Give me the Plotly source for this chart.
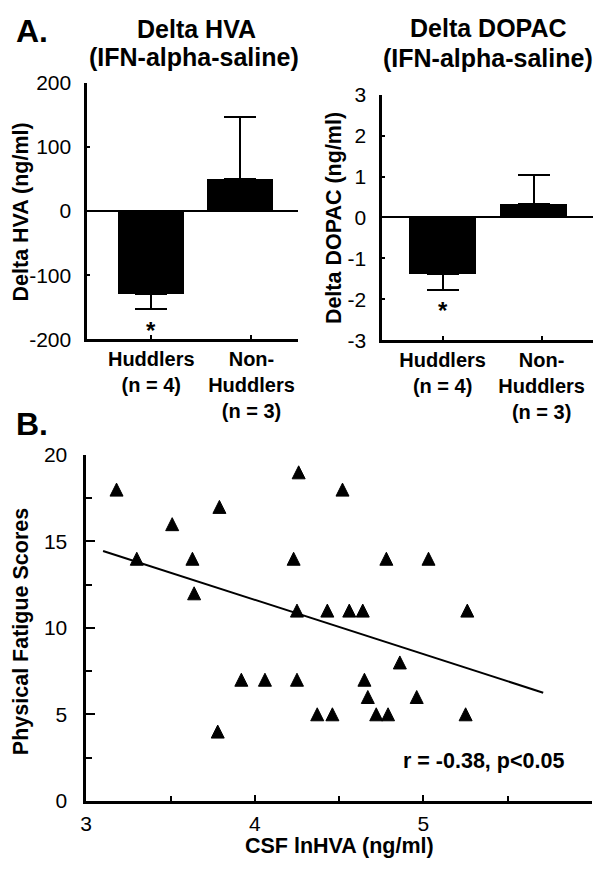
import plotly.graph_objects as go

# ---------------- data ----------------
groups = ["Huddlers<br>(n = 4)", "Non-<br>Huddlers<br>(n = 3)"]
group_pos = [0, 1]

hva_values = [-130, 50]
hva_err_up = [0, 97]
hva_err_down = [23, 0]
hva_ticks = [-200, -100, 0, 100, 200]
hva_tick_text = ["-200", "-100", "0", "100", "200"]

dopac_values = [-1.38, 0.33]
dopac_err_up = [0, 0.72]
dopac_err_down = [0.39, 0]
dopac_ticks = [-3, -2, -1, 0, 1, 2, 3]
dopac_tick_text = ["-3", "-2", "-1", "0", "1", "2", "3"]

csf_lnhva = [3.18, 3.30, 3.51, 3.63, 3.64, 3.79, 3.78, 3.92, 4.06, 4.23,
             4.25, 4.25, 4.26, 4.52, 4.78, 5.03, 4.43, 4.56, 4.64, 5.26,
             4.86, 4.65, 4.67, 4.96, 4.37, 4.46, 4.72, 4.79, 5.25]
fatigue = [18, 14, 16, 14, 12, 17, 4, 7, 7, 14,
           11, 7, 19, 18, 14, 14, 11, 11, 11, 11,
           8, 7, 6, 6, 5, 5, 5, 5, 5]
fit_x = [3.10, 5.71]
fit_y = [14.45, 6.25]

scatter_yticks = [0, 5, 10, 15, 20]
scatter_yminor = [2.5, 7.5, 12.5, 17.5]
scatter_xticks = [3, 4, 5]
scatter_xminor = [3.5, 4.5, 5.5]

# ---------------- figure ----------------
FONT = "Liberation Sans, Arial, sans-serif"
W, H = 601, 875
MARKER_SIZE = 13

def px_x(p):
    return p / W

def px_y(p):
    return 1 - p / H

fig = go.Figure()

fig.add_trace(go.Bar(
    x=group_pos, y=hva_values, width=0.66, offset=[-0.33, -0.44],
    marker=dict(color="black", line=dict(width=0)),
    error_y=dict(type="data", symmetric=False, array=hva_err_up,
                 arrayminus=hva_err_down, color="black", thickness=2, width=16),
    xaxis="x", yaxis="y", showlegend=False))

fig.add_trace(go.Bar(
    x=group_pos, y=dopac_values, width=0.67, offset=[-0.335, -0.415],
    marker=dict(color="black", line=dict(width=0)),
    error_y=dict(type="data", symmetric=False, array=dopac_err_up,
                 arrayminus=dopac_err_down, color="black", thickness=2, width=16),
    xaxis="x2", yaxis="y2", showlegend=False))

# up-pointing triangle as tall as it is wide, centred on the data point
fig.add_trace(go.Scatter(
    x=csf_lnhva, y=fatigue, mode="markers",
    marker=dict(symbol="arrow-down", angle=180, standoff=MARKER_SIZE / 2,
                size=MARKER_SIZE, color="black",
                line=dict(color="black", width=1)),
    xaxis="x3", yaxis="y3", showlegend=False))

fig.add_trace(go.Scatter(
    x=fit_x, y=fit_y, mode="lines", line=dict(color="black", width=2),
    xaxis="x3", yaxis="y3", showlegend=False))

axis_common = dict(showline=True, linecolor="black", linewidth=2.5,
                   showgrid=False, ticks="inside", tickcolor="black",
                   tickwidth=2, color="black")

fig.update_layout(
    width=W, height=H, margin=dict(l=0, r=0, t=0, b=0),
    paper_bgcolor="white", plot_bgcolor="white",
    font=dict(family=FONT, color="black", size=20),
    bargap=0,
    xaxis=dict(domain=[px_x(82), px_x(295)], range=[-0.64, 1.465],
               tickvals=group_pos, ticktext=groups, ticklen=4,
               tickfont=dict(size=20, weight="bold"), zeroline=False,
               anchor="y", **axis_common),
    yaxis=dict(domain=[px_y(336), px_y(73)], range=[-200, 200],
               tickvals=hva_ticks, ticktext=hva_tick_text, ticklen=3,
               tickfont=dict(size=21),
               zeroline=True, zerolinecolor="black", zerolinewidth=2,
               ticklabelstandoff=9, anchor="x", **axis_common),
    xaxis2=dict(domain=[px_x(380), px_x(593)], range=[-0.61, 1.52],
                tickvals=group_pos, ticktext=groups, ticklen=4,
                tickfont=dict(size=20, weight="bold"), zeroline=False,
                anchor="y2", **axis_common),
    yaxis2=dict(domain=[px_y(337), px_y(85)], range=[-3, 3],
                tickvals=dopac_ticks, ticktext=dopac_tick_text, ticklen=3,
                tickfont=dict(size=21),
                zeroline=True, zerolinecolor="black", zerolinewidth=2,
                ticklabelstandoff=9, anchor="x2", **axis_common),
    xaxis3=dict(domain=[px_x(81), px_x(592)], range=[3, 6],
                tickvals=scatter_xticks, ticklen=6, tickfont=dict(size=21),
                minor=dict(tickvals=scatter_xminor, ticklen=5, ticks="inside",
                           tickcolor="black", tickwidth=2),
                zeroline=False, anchor="y3", ticklabelstandoff=2, **axis_common),
    yaxis3=dict(domain=[px_y(810), px_y(455)], range=[0, 20],
                tickvals=scatter_yticks, ticklen=9, tickfont=dict(size=21),
                minor=dict(tickvals=scatter_yminor, ticklen=6, ticks="inside",
                           tickcolor="black", tickwidth=2),
                zeroline=False, anchor="x3", ticklabelstandoff=12, **axis_common),
)

def ann(text, x, y, size, bold=True, angle=0, xanchor="center", yanchor="middle",
        xref="paper", yref="paper"):
    fig.add_annotation(text=text, x=x, y=y, xref=xref, yref=yref,
                       showarrow=False, textangle=angle,
                       xanchor=xanchor, yanchor=yanchor,
                       font=dict(family=FONT, size=size, color="black",
                                 weight="bold" if bold else "normal"))

# panel letters
ann("A.", px_x(26), px_y(20), 32)
ann("B.", px_x(26), px_y(423), 32)

# titles
ann("Delta HVA", px_x(192), px_y(17), 25)
ann("(IFN-alpha-saline)", px_x(190), px_y(46), 25)
ann("Delta DOPAC", px_x(487), px_y(16), 25)
ann("(IFN-alpha-saline)", px_x(487), px_y(47), 25)

# axis titles
ann("Delta HVA (ng/ml)", px_x(15), px_y(205), 21.5, angle=-90)
ann("Delta DOPAC (ng/ml)", px_x(332), px_y(212), 21.5, angle=-90)
ann("Physical Fatigue Scores", px_x(15), px_y(636), 21.5, angle=-90)
ann("CSF lnHVA (ng/ml)", px_x(337), px_y(857), 21.5)

# significance stars
fig.add_annotation(text="*", x=0, y=-186, xref="x", yref="y", showarrow=False,
                   font=dict(family=FONT, size=24, color="black", weight="bold"))
fig.add_annotation(text="*", x=0, y=-2.27, xref="x2", yref="y2", showarrow=False,
                   font=dict(family=FONT, size=24, color="black", weight="bold"))

# correlation text
ann("r = -0.38, p<0.05", px_x(566), px_y(769), 21.5, xanchor="right")

fig.write_html("out.html", config={"displayModeBar": False},
               post_script="document.body.style.margin='0px';")
